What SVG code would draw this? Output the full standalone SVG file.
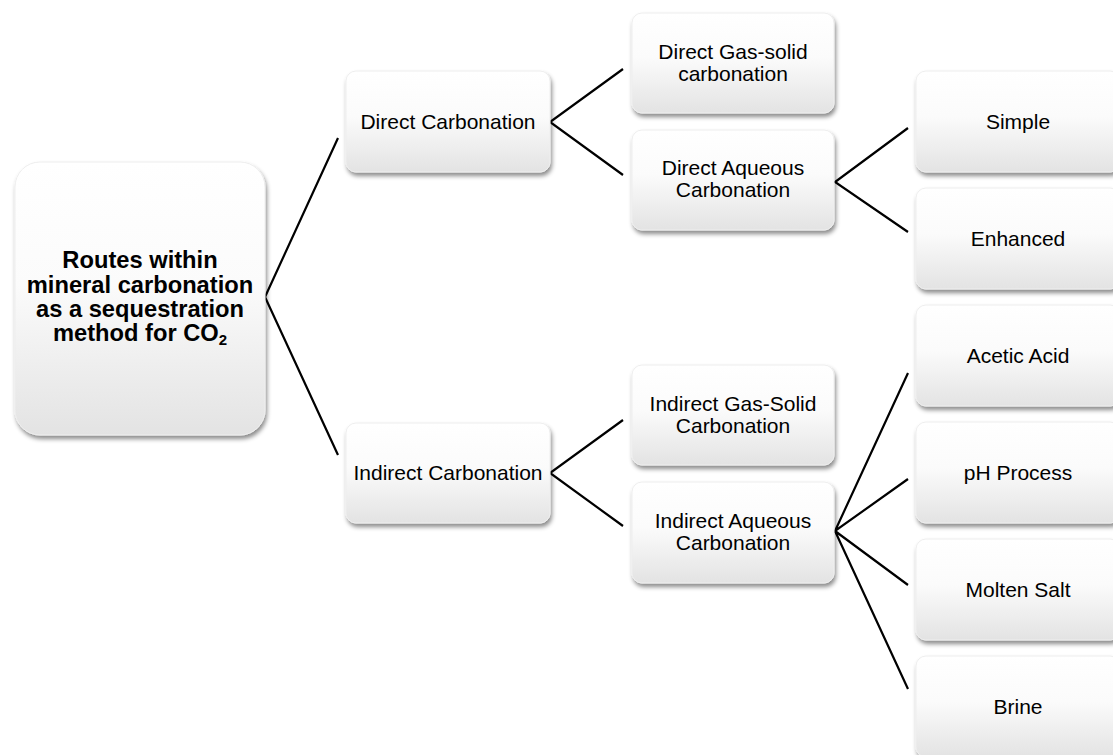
<svg xmlns="http://www.w3.org/2000/svg" width="1113" height="755" viewBox="0 0 1113 755">
<defs>
<linearGradient id="g" x1="0" y1="0" x2="0" y2="1">
<stop offset="0" stop-color="#ffffff"/>
<stop offset="0.45" stop-color="#fbfbfb"/>
<stop offset="1" stop-color="#e3e3e3"/>
</linearGradient>
<filter id="sh" x="-10%" y="-10%" width="125%" height="130%">
<feDropShadow dx="1.5" dy="3.5" stdDeviation="2" flood-color="#000" flood-opacity="0.45"/>
</filter>
</defs>
<style>
.box{fill:url(#g);stroke:#eeeeee;stroke-width:1;filter:url(#sh)}
.t{font-family:"Liberation Sans",Arial,sans-serif;font-size:21px;fill:#000;text-anchor:middle}
.b{font-family:"Liberation Sans",Arial,sans-serif;font-size:23.7px;font-weight:bold;fill:#000;text-anchor:middle}
.c{fill:none;stroke:#000;stroke-width:2.2}
</style>
<rect width="1113" height="755" fill="#fff"/>
<g id="connectors">
<polyline class="c" points="338,138 265,297 338,455"/>
<polyline class="c" points="623,69 550,122 623,175"/>
<polyline class="c" points="623,420 550,473 623,526"/>
<polyline class="c" points="908,128 835,182 908,232"/>
<path class="c" d="M908,373 L835,531 L908,479 M835,531 L908,585 M835,531 L908,689"/>
</g>
<g id="root">
<rect class="box" x="15" y="162" width="250" height="273" rx="25"/>
<text class="b" x="140" y="268">Routes within</text>
<text class="b" x="140" y="292.5">mineral carbonation</text>
<text class="b" x="140" y="317">as a sequestration</text>
<text class="b" x="140" y="341">method for CO<tspan font-size="15" dy="4">2</tspan></text>
</g>
<g id="direct">
<rect class="box" x="346" y="71" width="204" height="101" rx="10"/>
<text class="t" x="448" y="129">Direct Carbonation</text>
</g>
<g id="indirect">
<rect class="box" x="346" y="423" width="204" height="100" rx="10"/>
<text class="t" x="448" y="480">Indirect Carbonation</text>
</g>
<g id="direct-gas-solid">
<rect class="box" x="632" y="13" width="202" height="100" rx="10"/>
<text class="t" x="733" y="59">Direct Gas-solid</text>
<text class="t" x="733" y="81">carbonation</text>
</g>
<g id="direct-aqueous">
<rect class="box" x="632" y="130" width="202" height="100" rx="10"/>
<text class="t" x="733" y="175">Direct Aqueous</text>
<text class="t" x="733" y="197">Carbonation</text>
</g>
<g id="indirect-gas-solid">
<rect class="box" x="632" y="365" width="202" height="100" rx="10"/>
<text class="t" x="733" y="411">Indirect Gas-Solid</text>
<text class="t" x="733" y="433">Carbonation</text>
</g>
<g id="indirect-aqueous">
<rect class="box" x="632" y="482" width="202" height="101" rx="10"/>
<text class="t" x="733" y="528">Indirect Aqueous</text>
<text class="t" x="733" y="550">Carbonation</text>
</g>
<g id="simple">
<rect class="box" x="916" y="71" width="204" height="101" rx="10"/>
<text class="t" x="1018" y="129">Simple</text>
</g>
<g id="enhanced">
<rect class="box" x="916" y="188" width="204" height="101" rx="10"/>
<text class="t" x="1018" y="246">Enhanced</text>
</g>
<g id="acetic-acid">
<rect class="box" x="916" y="305" width="204" height="101" rx="10"/>
<text class="t" x="1018" y="363">Acetic Acid</text>
</g>
<g id="ph-process">
<rect class="box" x="916" y="422" width="204" height="101" rx="10"/>
<text class="t" x="1018" y="480">pH Process</text>
</g>
<g id="molten-salt">
<rect class="box" x="916" y="539" width="204" height="101" rx="10"/>
<text class="t" x="1018" y="597">Molten Salt</text>
</g>
<g id="brine">
<rect class="box" x="916" y="656" width="204" height="101" rx="10"/>
<text class="t" x="1018" y="714">Brine</text>
</g>
</svg>
